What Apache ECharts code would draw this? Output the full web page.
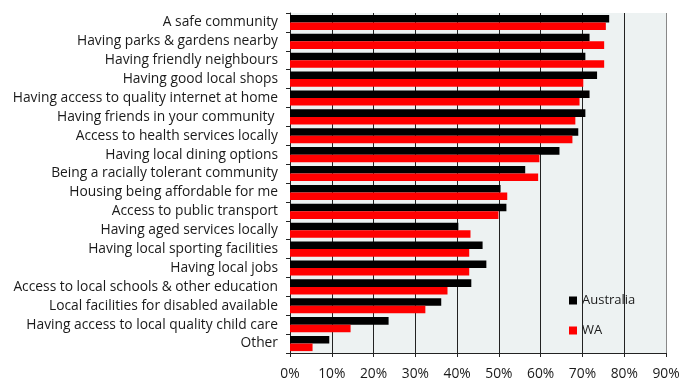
<!DOCTYPE html>
<html>
<head>
<meta charset="utf-8">
<script src="https://cdn.jsdelivr.net/npm/echarts@6/dist/echarts.min.js"></script>
<style>
  html, body { margin: 0; padding: 0; background: #fff; }
  #chart { width: 694px; height: 388px; }
</style>
</head>
<body>
<div id="chart"></div>
<script>
// categories, top to bottom
var categories = [
  "A safe community",
  "Having parks & gardens nearby",
  "Having friendly neighbours",
  "Having good local shops",
  "Having access to quality internet at home",
  "Having friends in your community ",
  "Access to health services locally",
  "Having local dining options",
  "Being a racially tolerant community",
  "Housing being affordable for me",
  "Access to public transport",
  "Having aged services locally",
  "Having local sporting facilities",
  "Having local jobs",
  "Access to local schools & other education",
  "Local facilities for disabled available",
  "Having access to local quality child care",
  "Other"
];
var australia = [76.4, 71.7, 70.7, 73.5, 71.7, 70.7, 69.0, 64.5, 56.3, 50.4, 51.8, 40.3, 46.1, 47.0, 43.4, 36.2, 23.6, 9.4];
var wa = [75.6, 75.2, 75.2, 70.2, 69.3, 68.3, 67.6, 59.7, 59.4, 52.0, 49.9, 43.2, 42.9, 42.9, 37.7, 32.4, 14.5, 5.4];

var font = "Open Sans";
var chart = echarts.init(document.getElementById("chart"));
chart.setOption({
  animation: false,
  textStyle: { fontFamily: font },
  legend: {
    orient: "vertical",
    left: 569,
    top: 294,
    padding: 0,
    itemWidth: 8,
    itemHeight: 8,
    itemGap: 17,
    icon: "rect",
    textStyle: { fontFamily: font, fontSize: 13, color: "#1a1a1a" },
    data: ["Australia", "WA"]
  },
  grid: {
    left: 290,
    right: 28,
    top: 13,
    bottom: 35,
    show: true,
    backgroundColor: "#edf2f2",
    borderWidth: 0
  },
  xAxis: {
    type: "value",
    min: 0,
    max: 90,
    interval: 10,
    axisLine: { show: true, lineStyle: { color: "#222" } },
    axisTick: { show: true, length: 4, lineStyle: { color: "#222" } },
    axisLabel: {
      formatter: "{value}%",
      fontFamily: font,
      fontSize: 13.8,
      color: "#1a1a1a",
      margin: 14
    },
    splitLine: {
      show: true,
      lineStyle: {
        color: ["#222", "#222", "#222", "#222", "#222", "#222", "#222", "#222", "#222", "#888"],
        width: 1
      }
    }
  },
  yAxis: {
    type: "category",
    inverse: true,
    data: categories,
    axisLine: { show: true, lineStyle: { color: "#222" } },
    axisTick: { show: true, length: 4, lineStyle: { color: "#222" } },
    axisLabel: {
      fontFamily: font,
      fontSize: 13.8,
      color: "#1a1a1a",
      margin: 12,
      interval: 0
    }
  },
  series: [
    {
      name: "Australia",
      type: "bar",
      data: australia,
      barGap: "0%",
      barCategoryGap: "20%",
      itemStyle: { color: "#000000" }
    },
    {
      name: "WA",
      type: "bar",
      data: wa,
      itemStyle: { color: "#ff0000" }
    }
  ]
});
</script>
</body>
</html>
